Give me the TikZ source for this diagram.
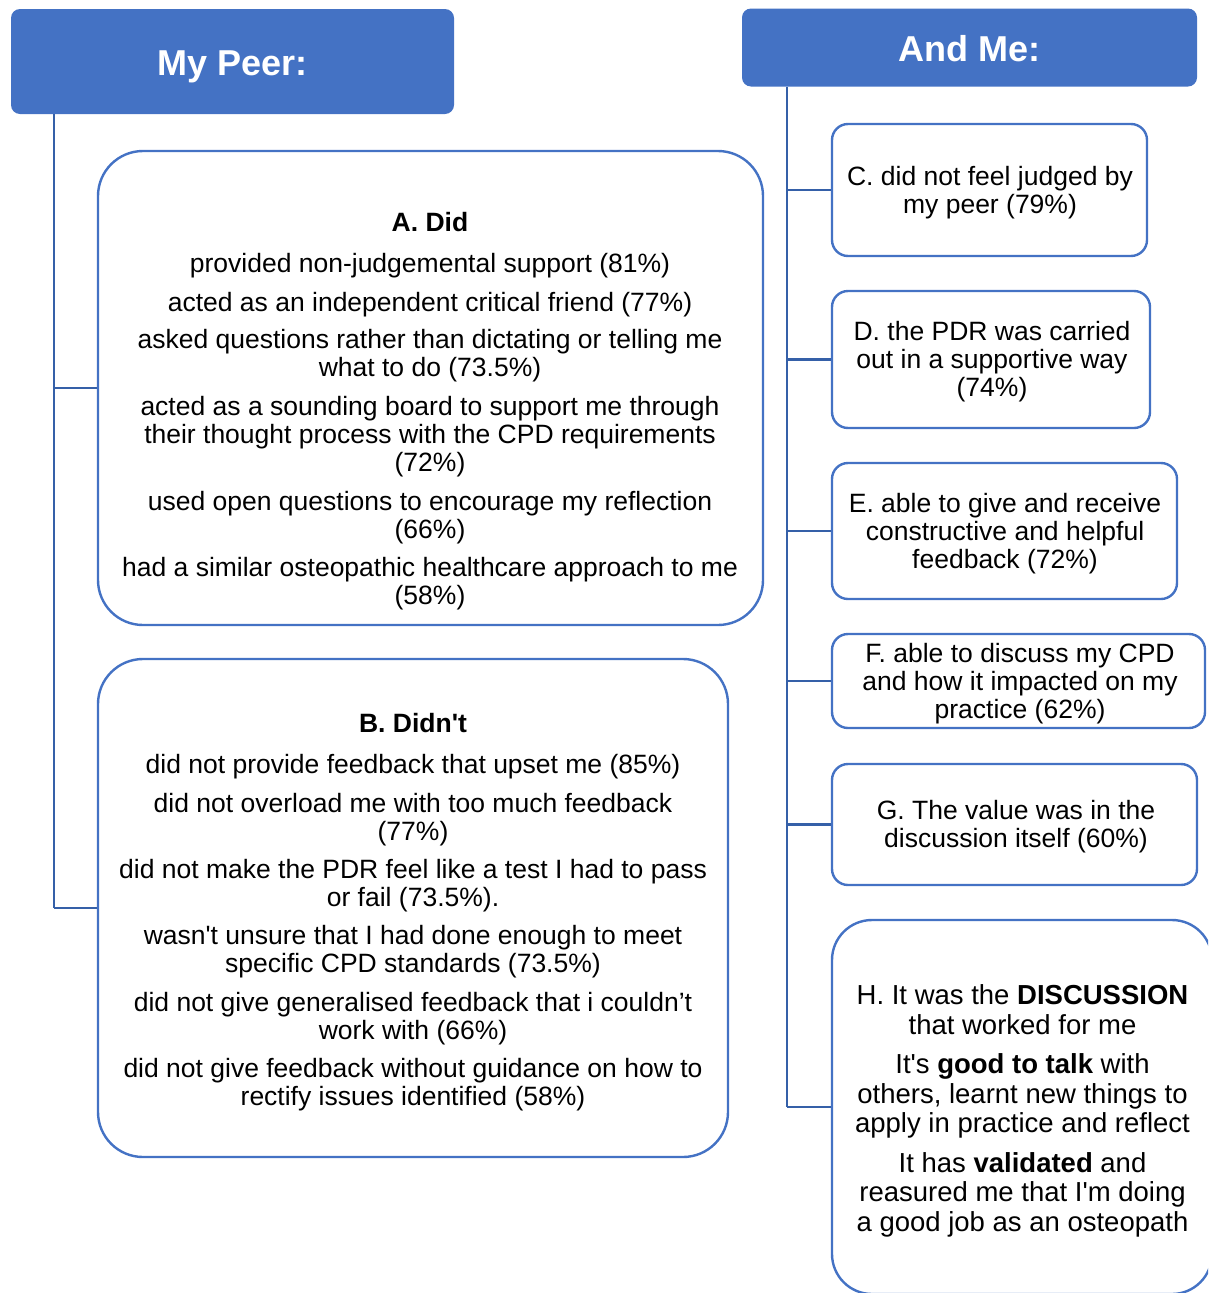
\documentclass[tikz,border=0pt]{standalone}
\usepackage{fontspec}
\setmainfont{Liberation Sans}[Ligatures=TeXOff]
\usepackage{tikz}
\usetikzlibrary{positioning}
\definecolor{hdblue}{HTML}{4472C4}
\definecolor{lnblue}{HTML}{3560A8}
\tikzset{
  head/.style={fill=hdblue, rounded corners=9pt, text=white, inner sep=0pt,
    text height=27pt, text depth=0pt, font=\fontsize{36}{40}\selectfont\bfseries},
  roundbox/.style={draw=hdblue, line width=2.4pt, rounded corners=#1, fill=white, inner sep=0pt},
  body/.style={font=\fontsize{26.5}{28}\selectfont, align=center, inner sep=0pt},
  bigbody/.style={font=\fontsize{27.5}{29.5}\selectfont, align=center, inner sep=0pt},
  link/.style={draw=lnblue, line width=2.4pt},
}
\newcommand{\pct}{\%}

\begin{document}
\begin{tikzpicture}[x=1pt, y=-1pt]
  \useasboundingbox (0,0) rectangle (1208,1293);
  \clip (0,0) rectangle (1208,1293);

  % headers
  \node[head, minimum width=443, minimum height=105] (peer) at (232.5, 61.5) {My Peer:};
  \node[head, minimum width=455, minimum height=78] (me) at (969.5, 47.5) {And Me:};

  % left column
  \node[roundbox=45pt, minimum width=665, minimum height=474] (did) at (430.5, 388) {};
  \node[roundbox=45pt, minimum width=630, minimum height=498] (didnt) at (413, 908) {};

  \node[body] (didtxt) at (430, 411) {{\bfseries A. Did}\\[13pt]
    provided non-judgemental support (81\pct)\\[11pt]
    acted as an independent critical friend (77\pct)\\[9pt]
    asked questions rather than dictating or telling me\\ what to do (73.5\pct)\\[11pt]
    acted as a sounding board to support me through\\ their thought process with the CPD requirements\\ (72\pct)\\[11pt]
    used open questions to encourage my reflection\\ (66\pct)\\[10pt]
    had a similar osteopathic healthcare approach to me\\ (58\pct)};

  \node[body] (didnttxt) at (413, 912) {{\bfseries B. Didn't}\\[13pt]
    did not provide feedback that upset me (85\pct)\\[11pt]
    did not overload me with too much feedback\\ (77\pct)\\[10pt]
    did not make the PDR feel like a test I had to pass\\ or fail (73.5\pct).\\[10pt]
    wasn't unsure that I had done enough to meet\\ specific CPD standards (73.5\pct)\\[11pt]
    did not give generalised feedback that i couldn’t\\ work with (66\pct)\\[10pt]
    did not give feedback without guidance on how to\\ rectify issues identified (58\pct)};

  % right column
  \node[roundbox=16pt, minimum width=315, minimum height=132] (boxC) at (989.5, 190) {};
  \node[roundbox=16pt, minimum width=318, minimum height=137] (boxD) at (991, 359.5) {};
  \node[roundbox=16pt, minimum width=345, minimum height=136] (boxE) at (1004.5, 531) {};
  \node[roundbox=16pt, minimum width=373, minimum height=94] (boxF) at (1018.5, 681) {};
  \node[roundbox=16pt, minimum width=365, minimum height=121] (boxG) at (1014.5, 824.5) {};
  \node[roundbox=40pt, minimum width=380, minimum height=374] (boxH) at (1022, 1107) {};

  \node[body] (txtC) at (990, 193) {C. did not feel judged by\\ my peer (79\pct)};
  \node[body] (txtD) at (992, 362) {D. the PDR was carried\\ out in a supportive way\\ (74\pct)};
  \node[body] (txtE) at (1005, 534) {E. able to give and receive\\ constructive and helpful\\ feedback (72\pct)};
  \node[body] (txtF) at (1020, 684) {F. able to discuss my CPD\\ and how it impacted on my\\ practice (62\pct)};
  \node[body] (txtG) at (1016, 827) {G. The value was in the\\ discussion itself (60\pct)};
  \node[bigbody] (txtH) at (1022.5, 1111) {H. It was the {\bfseries DISCUSSION}\\ that worked for me\\[10pt]
    It's {\bfseries good to talk} with\\ others, learnt new things to\\ apply in practice and reflect\\[10pt]
    It has {\bfseries validated} and\\ reasured me that I'm doing\\ a good job as an osteopath};

  % connectors
  \coordinate (lspine) at (54,0);
  \coordinate (rspine) at (787,0);
  \draw[link] (peer.south -| lspine) -- (lspine |- didnt.west);
  \draw[link] (lspine |- did.west) -- (did.west);
  \draw[link] (lspine |- didnt.west) -- (didnt.west);

  \draw[link] (me.south -| rspine) -- (rspine |- boxH.west);
  \foreach \b in {boxC,boxD,boxE,boxF,boxG,boxH}
    \draw[link] (rspine |- \b.west) -- (\b.west);
\end{tikzpicture}
\end{document}
